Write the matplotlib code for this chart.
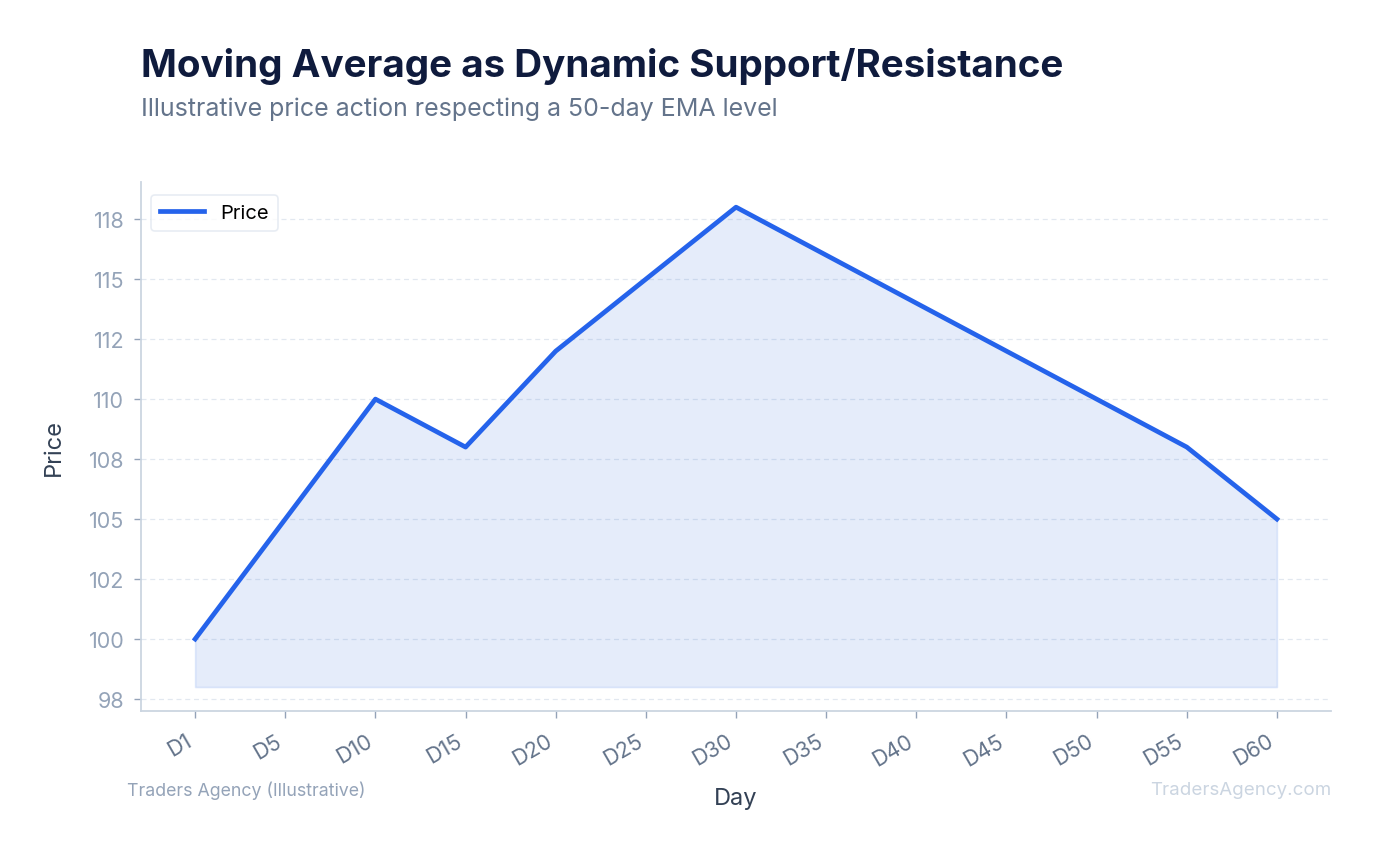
import matplotlib
matplotlib.use("Agg")
import matplotlib.pyplot as plt
from matplotlib.ticker import MultipleLocator, FormatStrFormatter

days = ["D1", "D5", "D10", "D15", "D20", "D25", "D30", "D35", "D40", "D45", "D50", "D55", "D60"]
price = [100, 105, 110, 108, 112, 115, 118, 116, 114, 112, 110, 108, 105]
fill_base = 98

plt.rcParams['font.family'] = ['Inter', 'DejaVu Sans']

fig = plt.figure(figsize=(13.76, 8.53), dpi=100)
ax = fig.add_axes([0.1025, 0.1653, 0.8648, 0.6202])

x = list(range(len(days)))
ax.fill_between(x, price, fill_base, color="#2a66d8", alpha=0.12, linewidth=1.2,
                edgecolor=(0.145, 0.388, 0.922, 0.10))
ax.plot(x, price, color="#2563eb", linewidth=3.4, label="Price", solid_capstyle="projecting")

ax.set_xlim(-0.6, 12.6)
ax.set_ylim(97, 119.05)
ax.yaxis.set_major_locator(MultipleLocator(2.5))
ax.yaxis.set_major_formatter(FormatStrFormatter('%.0f'))
ax.set_xticks(x)
ax.set_xticklabels(days, rotation=30, ha="right")

ax.grid(axis="y", color="#e2e8f0", linestyle=(0, (4, 3)), linewidth=0.9)
ax.set_axisbelow(True)
for s in ["top", "right"]:
    ax.spines[s].set_visible(False)
for s in ["left", "bottom"]:
    ax.spines[s].set_color("#cbd5e1")
    ax.spines[s].set_linewidth(1.3)

ax.tick_params(axis="y", colors="#94a3b8", labelcolor="#94a3b8", labelsize=15.5, length=5, width=1, pad=7)
ax.tick_params(axis="x", colors="#94a3b8", labelcolor="#64748b", labelsize=15.5, length=5, width=1, pad=9)

ax.set_xlabel("Day", fontsize=17, color="#334155", labelpad=13)
ax.set_ylabel("Price", fontsize=17, color="#334155", labelpad=17)

leg = ax.legend(loc="upper left", fontsize=14.5, frameon=True, fancybox=True,
                handlelength=2.2, borderpad=0.45, bbox_to_anchor=(0.0, 0.995))
leg.get_frame().set_edgecolor("#e2e8f0")
leg.get_frame().set_linewidth(1.2)
leg.get_frame().set_facecolor("white")

fig.text(0.1025, 1 - 77 / 853, "Moving Average as Dynamic Support/Resistance", fontsize=27.8,
         fontweight="bold", color="#0f1b3d", ha="left", va="baseline")
fig.text(0.1025, 1 - 116 / 853, "Illustrative price action respecting a 50-day EMA level", fontsize=18,
         color="#64748b", ha="left", va="baseline")

fig.text(127 / 1376, 1 - 791 / 853, "Traders Agency (Illustrative)", fontsize=12.8,
         color="#94a3b8", ha="left", va="center")
fig.text(1331 / 1376, 1 - 791 / 853, "TradersAgency.com", fontsize=13.5,
         color="#cbd5e1", ha="right", va="center")

fig.savefig("out.png", dpi=100, facecolor="white")
